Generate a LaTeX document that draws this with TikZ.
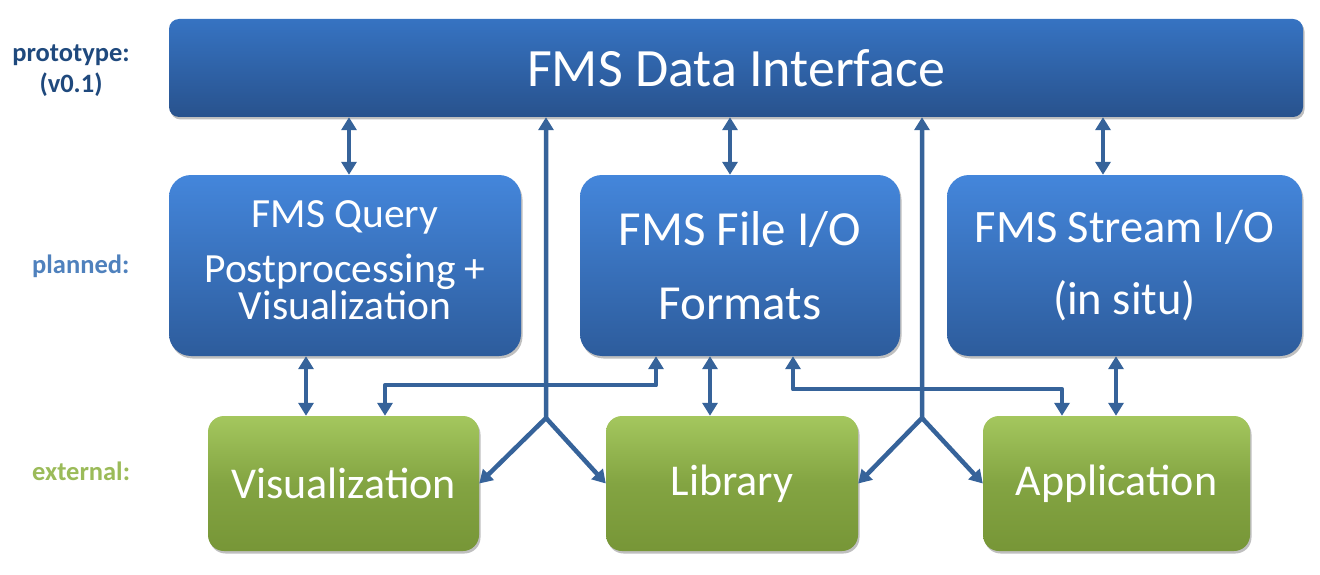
\documentclass[tikz,border=0pt]{standalone}
\usepackage{fontspec}
\setmainfont{Carlito}
\usetikzlibrary{arrows.meta,shadows}

\definecolor{arrowc}{HTML}{36639A}
\definecolor{toptop}{HTML}{3673C2}
\definecolor{topbot}{HTML}{28528D}
\definecolor{midtop}{HTML}{4486DB}
\definecolor{midbot}{HTML}{2D5C9C}
\definecolor{grntop}{HTML}{A4C75E}
\definecolor{grnmid}{HTML}{83A442}
\definecolor{grnbot}{HTML}{779637}
\definecolor{protoc}{HTML}{1F497D}
\definecolor{planc}{HTML}{4F81BD}
\definecolor{extc}{HTML}{9BBB59}

\tikzset{
  boxshadow/.style={drop shadow={shadow xshift=1.5pt, shadow yshift=-2.5pt,
                    opacity=0.25, fill=black}},
  topbox/.style={rounded corners=10pt, top color=toptop, bottom color=topbot,
                 text=white, align=center, inner sep=0pt, boxshadow},
  midbox/.style={rounded corners=22pt, top color=midtop, bottom color=midbot,
                 text=white, align=center, inner sep=0pt, boxshadow},
  extbox/.style={rounded corners=16pt, top color=grntop, bottom color=grnbot,
                 middle color=grnmid, text=white, align=center, inner sep=0pt,
                 boxshadow, font=\fontsize{44}{44}\selectfont},
  rowlabel/.style={font=\fontsize{26.5}{31}\selectfont\bfseries, align=center, inner sep=0pt},
  conn/.style={draw=arrowc, line width=4.5pt, line join=round},
  tip/.tip={Triangle[width=15pt,length=13pt]},
}

\begin{document}
\begin{tikzpicture}[x=1pt,y=-1pt]
\useasboundingbox[fill=white] (0,0) rectangle (1320,575);

% row labels
\node[rowlabel, text=protoc, anchor=base] (lproto) at (71,93) {prototype:\\(v0.1)};
\node[rowlabel, text=planc, anchor=base west] (lplan) at (32,273) {planned:};
\node[rowlabel, text=extc, anchor=base west] (lext) at (32,480) {external:};

% prototype layer
\node[topbox, minimum width=1134pt, minimum height=98pt,
      font=\fontsize{54}{54}\selectfont] (top) at (736,68) {FMS Data Interface};

% planned layer
\node[midbox, minimum width=352pt, minimum height=181pt,
      font=\fontsize{41.5}{37.5}\selectfont] (qry) at (345,265.5)
      {FMS Query\\[17pt]Postprocessing +\\Visualization\rule[-10pt]{0pt}{10pt}};
\node[midbox, minimum width=320pt, minimum height=181pt,
      font=\fontsize{49}{49}\selectfont] (file) at (740,265.5)
      {FMS File I/O\\[25pt]Formats};
\node[midbox, minimum width=355pt, minimum height=181pt,
      font=\fontsize{46.5}{46.5}\selectfont] (strm) at (1124.5,265.5)
      {FMS Stream I/O\\[25.5pt](in situ)};

% external layer
\node[extbox, minimum width=271pt, minimum height=135pt] (vis) at (343.5,483.5) {Visualization};
\node[extbox, minimum width=252pt, minimum height=135pt] (lib) at (732,483.5) {Library};
\node[extbox, minimum width=267pt, minimum height=135pt] (app) at (1116.5,483.5) {Application};

% vertical two-way links
\draw[conn, tip-tip] ([xshift=4pt]qry.north |- top.south) -- ([xshift=4pt]qry.north);
\draw[conn, tip-tip] ([xshift=-10pt]file.north |- top.south) -- ([xshift=-10pt]file.north);
\draw[conn, tip-tip] ([xshift=-21.5pt]strm.north |- top.south) -- ([xshift=-21.5pt]strm.north);
\draw[conn, tip-tip] ([xshift=-39pt]qry.south) -- ([xshift=-39pt]qry.south |- vis.north);
\draw[conn, tip-tip] ([xshift=-30pt]file.south) -- ([xshift=-30pt]file.south |- lib.north);
\draw[conn, tip-tip] ([xshift=-8.5pt]strm.south) -- ([xshift=-8.5pt]strm.south |- app.north);

% elbow links from the file formats
\draw[conn, tip-tip] ([xshift=-84pt]file.south) -- ++(0,29) -| ([xshift=41.5pt]vis.north);
\draw[conn, tip-tip] ([xshift=53pt]file.south) -- ++(0,33) -| ([xshift=-54.5pt]app.north);

% direct links from the data interface
\coordinate (j1) at (546,418);
\coordinate (j2) at (922,418);
\draw[conn, tip-tip] (j1 |- top.south) -- (j1) -- (vis.east);
\draw[conn, -tip] (j1) -- (lib.west);
\draw[conn, tip-tip] (j2 |- top.south) -- (j2) -- (lib.east);
\draw[conn, -tip] (j2) -- (app.west);
\end{tikzpicture}
\end{document}
